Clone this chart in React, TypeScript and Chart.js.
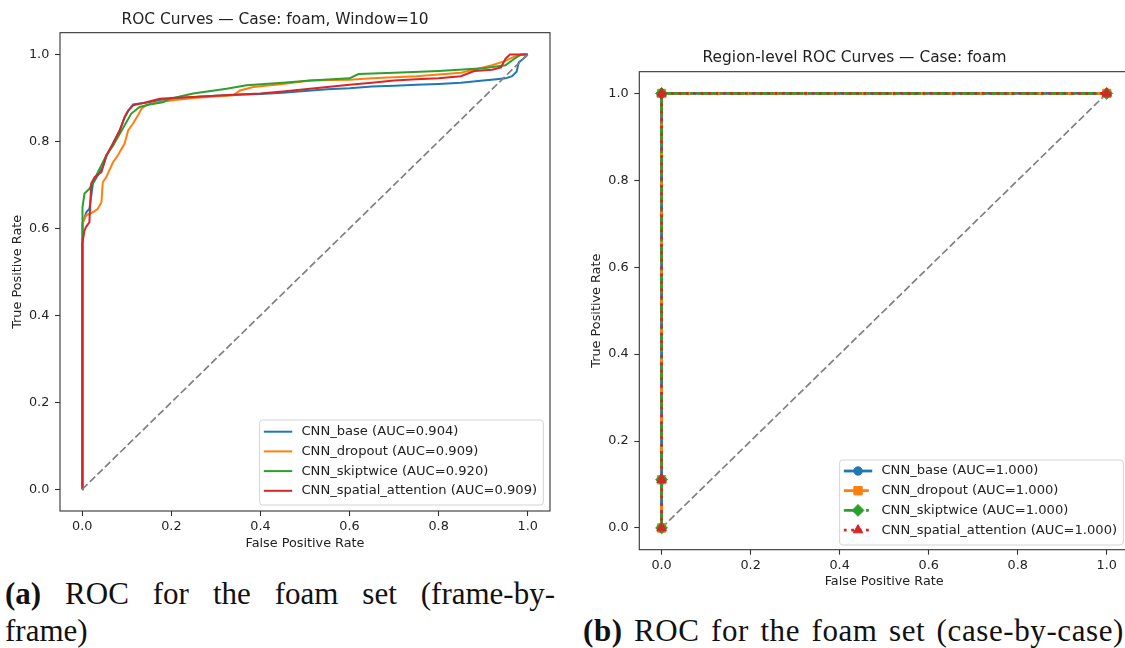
import React, { useEffect, useRef } from "react";
import { Chart, registerables } from "chart.js";
import { drawPoint } from "chart.js/helpers";

Chart.register(...registerables);
Chart.defaults.font.family = '"DejaVu Sans", sans-serif';

// ---------- data ----------
const MODEL_NAMES = ["CNN_base", "CNN_dropout", "CNN_skiptwice", "CNN_spatial_attention"];
const MODEL_COLORS = ["#1f77b4", "#ff7f0e", "#2ca02c", "#d62728"];
const FRAME_AUC = ["0.904", "0.909", "0.920", "0.909"];
const CASE_AUC = ["1.000", "1.000", "1.000", "1.000"];
const AXIS_TICKS = [0, 0.2, 0.4, 0.6, 0.8, 1.0];
const DIAG_X = [0, 1];
const DIAG_Y = [0, 1];

const baseFpr = [0, 0, 0.001, 0.009, 0.016, 0.024, 0.035, 0.046, 0.054, 0.069, 0.084, 0.095, 0.103, 0.114, 0.129, 0.15, 0.175, 0.2, 0.25, 0.3, 0.35, 0.4, 0.45, 0.5, 0.55, 0.6, 0.65, 0.7, 0.75, 0.8, 0.85, 0.9, 0.93, 0.95, 0.965, 0.975, 0.98, 0.99, 1];
const baseTpr = [0, 0.58, 0.61, 0.637, 0.645, 0.703, 0.722, 0.741, 0.765, 0.795, 0.825, 0.855, 0.87, 0.885, 0.887, 0.89, 0.895, 0.898, 0.902, 0.905, 0.907, 0.909, 0.912, 0.916, 0.92, 0.922, 0.926, 0.928, 0.93, 0.932, 0.935, 0.94, 0.943, 0.945, 0.95, 0.96, 0.982, 0.99, 1];

const dropoutFpr = [0, 0, 0.001, 0.009, 0.024, 0.035, 0.043, 0.046, 0.054, 0.069, 0.08, 0.095, 0.103, 0.114, 0.125, 0.133, 0.144, 0.174, 0.249, 0.339, 0.354, 0.384, 0.45, 0.512, 0.6, 0.65, 0.75, 0.85, 0.88, 0.92, 0.95, 0.97, 0.99, 1];
const dropoutTpr = [0, 0.58, 0.611, 0.63, 0.637, 0.645, 0.66, 0.706, 0.718, 0.752, 0.768, 0.795, 0.825, 0.841, 0.86, 0.875, 0.884, 0.891, 0.9, 0.906, 0.917, 0.925, 0.932, 0.94, 0.942, 0.945, 0.95, 0.958, 0.965, 0.975, 0.985, 0.995, 1, 1];

const skipFpr = [0, 0, 0.001, 0.005, 0.016, 0.024, 0.039, 0.054, 0.069, 0.084, 0.099, 0.11, 0.129, 0.151, 0.181, 0.197, 0.249, 0.324, 0.369, 0.45, 0.512, 0.6, 0.62, 0.7, 0.8, 0.9, 0.95, 0.97, 0.985, 1];
const skipTpr = [0, 0.58, 0.649, 0.68, 0.691, 0.706, 0.737, 0.768, 0.79, 0.817, 0.844, 0.864, 0.879, 0.885, 0.89, 0.898, 0.91, 0.921, 0.929, 0.935, 0.94, 0.945, 0.955, 0.958, 0.962, 0.968, 0.975, 0.99, 1, 1];

const spatialFpr = [0, 0, 0.005, 0.009, 0.016, 0.02, 0.028, 0.043, 0.054, 0.069, 0.084, 0.095, 0.103, 0.114, 0.144, 0.174, 0.2, 0.25, 0.3, 0.35, 0.4, 0.45, 0.5, 0.55, 0.6, 0.65, 0.7, 0.75, 0.8, 0.85, 0.88, 0.92, 0.94, 0.95, 0.96, 1];
const spatialTpr = [0, 0.565, 0.595, 0.604, 0.614, 0.703, 0.718, 0.729, 0.768, 0.795, 0.825, 0.856, 0.871, 0.883, 0.89, 0.898, 0.9, 0.902, 0.905, 0.908, 0.91, 0.915, 0.92, 0.925, 0.93, 0.935, 0.94, 0.943, 0.945, 0.95, 0.962, 0.965, 0.97, 0.99, 1.0, 1.0];

const FRAME_FPR = [baseFpr, dropoutFpr, skipFpr, spatialFpr];
const FRAME_TPR = [baseTpr, dropoutTpr, skipTpr, spatialTpr];

const caseFpr = [0, 0, 0, 1];
const caseTpr = [0, 0.111, 1, 1];

// ---------- styles ----------
const CASE_DASH = [[], [10.3, 4.4], [17.8, 4.4, 2.8, 4.4], [2.8, 4.6]];
const CASE_MARKER = ["circle", "rect", "rectRot", "triangle"];
const CASE_RADIUS = [4.2, 5.9, 5.9, 5.5];
const TEXT = "#222";
const TICK_FONT = 12.8;
const LEGEND_FONT = 13.1;

const toPoints = (xs: number[], ys: number[]) => xs.map((x, i) => ({ x, y: ys[i] }));

const framePlugin = {
  id: "mplFrame",
  afterDatasetsDraw(chart: any) {
    const { ctx, chartArea } = chart;
    ctx.save();
    ctx.strokeStyle = "#333";
    ctx.lineWidth = 1.1;
    ctx.strokeRect(chartArea.left, chartArea.top, chartArea.right - chartArea.left, chartArea.bottom - chartArea.top);
    ctx.restore();
  },
};

const legendPlugin = {
  id: "mplLegend",
  afterDraw(chart: any, _args: any, opts: any) {
    const { ctx, chartArea } = chart;
    const items = opts.items || [];
    ctx.save();
    ctx.font = `${LEGEND_FONT}px "DejaVu Sans"`;
    const textW = Math.max(...items.map((it: any) => ctx.measureText(it.label).width));
    const padL = 4.2, handleW = 28.4, gap = 9.2, padR = 6.2;
    const boxW = padL + handleW + gap + textW + padR;
    const boxH = 85;
    const right = chartArea.right - opts.insetR;
    const bottom = chartArea.bottom - opts.insetB;
    const left = right - boxW;
    const top = bottom - boxH;
    const r = 3;
    ctx.beginPath();
    ctx.moveTo(left + r, top);
    ctx.lineTo(right - r, top);
    ctx.quadraticCurveTo(right, top, right, top + r);
    ctx.lineTo(right, bottom - r);
    ctx.quadraticCurveTo(right, bottom, right - r, bottom);
    ctx.lineTo(left + r, bottom);
    ctx.quadraticCurveTo(left, bottom, left, bottom - r);
    ctx.lineTo(left, top + r);
    ctx.quadraticCurveTo(left, top, left + r, top);
    ctx.closePath();
    ctx.fillStyle = "rgba(255,255,255,0.8)";
    ctx.fill();
    ctx.strokeStyle = "#d4d4d4";
    ctx.lineWidth = 1;
    ctx.stroke();
    items.forEach((it: any, i: number) => {
      const y = top + opts.firstRow + i * 19.7;
      const x0 = left + padL;
      ctx.save();
      ctx.strokeStyle = it.color;
      ctx.lineWidth = it.lineWidth;
      ctx.setLineDash(it.dash || []);
      ctx.beginPath();
      ctx.moveTo(x0, y);
      ctx.lineTo(x0 + handleW, y);
      ctx.stroke();
      ctx.restore();
      if (it.pointStyle) {
        ctx.save();
        ctx.fillStyle = it.color;
        ctx.strokeStyle = it.color;
        ctx.lineWidth = 1;
        drawPoint(ctx, { pointStyle: it.pointStyle, radius: it.radius, rotation: 0, borderWidth: 1 } as any, x0 + handleW / 2, y);
        ctx.restore();
      }
      ctx.fillStyle = TEXT;
      ctx.textBaseline = "middle";
      ctx.textAlign = "left";
      ctx.fillText(it.label, x0 + handleW + gap, y);
    });
    ctx.restore();
  },
};

function axis(title: string, isX: boolean, fixed: number, titlePad: any) {
  return {
    type: "linear",
    min: -0.05,
    max: 1.05,
    afterBuildTicks: (s: any) => {
      s.ticks = AXIS_TICKS.map((v) => ({ value: v }));
    },
    afterFit: (s: any) => {
      if (isX) s.height = fixed;
      else s.width = fixed;
    },
    ticks: {
      callback: (v: any) => Number(v).toFixed(1),
      color: TEXT,
      font: { size: TICK_FONT },
      padding: isX ? 3 : 5.7,
      autoSkip: false,
      maxRotation: 0,
    },
    grid: { display: true, drawOnChartArea: false, drawTicks: true, tickLength: 5, tickColor: "#333", tickWidth: 1.1 },
    border: { display: false },
    title: { display: true, text: title, color: TEXT, font: { size: TICK_FONT }, padding: titlePad },
  };
}

function FrameChart() {
  const ref = useRef<HTMLCanvasElement>(null);
  useEffect(() => {
    const datasets: any[] = MODEL_NAMES.map((n, i) => ({
      label: `${n} (AUC=${FRAME_AUC[i]})`,
      data: toPoints(FRAME_FPR[i], FRAME_TPR[i]),
      borderColor: MODEL_COLORS[i],
      backgroundColor: MODEL_COLORS[i],
      borderWidth: 2,
      pointRadius: 0,
      tension: 0,
      fill: false,
      order: 10 - i,
    }));
    datasets.push({
      label: "chance",
      data: toPoints(DIAG_X, DIAG_Y),
      borderColor: "#808080",
      borderWidth: 1.7,
      borderDash: [7.4, 3.2],
      pointRadius: 0,
      fill: false,
      order: 0,
    });
    const chart = new Chart(ref.current as HTMLCanvasElement, {
      type: "line",
      data: { datasets },
      plugins: [framePlugin, legendPlugin],
      options: {
        animation: false,
        responsive: true,
        maintainAspectRatio: false,
        devicePixelRatio: 1,
        layout: { padding: { left: 0, right: 10, top: 0, bottom: 0 } },
        scales: {
          x: axis("False Positive Rate", true, 49, { top: 0, bottom: 8.8 }),
          y: axis("True Positive Rate", false, 60, { top: 10, bottom: 0 }),
        } as any,
        plugins: {
          legend: { display: false },
          tooltip: { enabled: false },
          title: {
            display: true,
            text: "ROC Curves \u2014 Case: foam, Window=10",
            color: TEXT,
            font: { size: 15.4, weight: "normal" },
            padding: { top: 10.8, bottom: 3.4 },
          },
          mplLegend: {
            insetR: 6.7,
            insetB: 6,
            firstRow: 11.7,
            items: MODEL_NAMES.map((n, i) => ({ label: `${n} (AUC=${FRAME_AUC[i]})`, color: MODEL_COLORS[i], lineWidth: 2 })),
          },
        } as any,
      },
    });
    return () => chart.destroy();
  }, []);
  return (
    <div style={{ position: "absolute", left: 0, top: 0, width: 560, height: 560 }}>
      <canvas ref={ref} />
    </div>
  );
}

function CaseChart() {
  const ref = useRef<HTMLCanvasElement>(null);
  useEffect(() => {
    const datasets: any[] = [
      {
        label: "chance",
        data: toPoints(DIAG_X, DIAG_Y),
        borderColor: "#808080",
        borderWidth: 1.7,
        borderDash: [7.4, 3.2],
        pointRadius: 0,
        fill: false,
        order: 100,
      },
    ];
    MODEL_NAMES.forEach((n, i) => {
      datasets.push({
        label: `${n} (AUC=${CASE_AUC[i]})`,
        data: toPoints(caseFpr, caseTpr),
        borderColor: MODEL_COLORS[i],
        backgroundColor: MODEL_COLORS[i],
        borderWidth: 2.8,
        borderDash: CASE_DASH[i],
        pointStyle: CASE_MARKER[i],
        pointRadius: CASE_RADIUS[i],
        pointBorderWidth: 1,
        pointBorderColor: MODEL_COLORS[i],
        pointBackgroundColor: MODEL_COLORS[i],
        tension: 0,
        fill: false,
        clip: false,
        order: 10 - i,
      });
    });
    const chart = new Chart(ref.current as HTMLCanvasElement, {
      type: "line",
      data: { datasets },
      plugins: [framePlugin, legendPlugin],
      options: {
        animation: false,
        responsive: true,
        maintainAspectRatio: false,
        devicePixelRatio: 1,
        layout: { padding: { left: 0, right: 11, top: 0, bottom: 0 } },
        scales: {
          x: axis("False Positive Rate", true, 50.3, { top: 0, bottom: 10.8 }),
          y: axis("True Positive Rate", false, 59.3, { top: 8.8, bottom: 0 }),
        } as any,
        plugins: {
          legend: { display: false },
          tooltip: { enabled: false },
          title: {
            display: true,
            text: "Region-level ROC Curves \u2014 Case: foam",
            color: TEXT,
            font: { size: 15.4, weight: "normal" },
            padding: { top: 48.8, bottom: 4.4 },
          },
          mplLegend: {
            insetR: 5.7,
            insetB: 4.7,
            firstRow: 11,
            items: MODEL_NAMES.map((n, i) => ({
              label: `${n} (AUC=${CASE_AUC[i]})`,
              color: MODEL_COLORS[i],
              lineWidth: 2.8,
              dash: CASE_DASH[i],
              pointStyle: CASE_MARKER[i],
              radius: CASE_RADIUS[i],
            })),
          },
        } as any,
      },
    });
    return () => chart.destroy();
  }, []);
  return (
    <div style={{ position: "absolute", left: 580, top: 0, width: 560, height: 600 }}>
      <canvas ref={ref} />
    </div>
  );
}

const captionStyle: React.CSSProperties = {
  position: "absolute",
  fontFamily: '"Liberation Serif", "Times New Roman", serif',
  fontSize: 31,
  lineHeight: "31px",
  color: "#111",
  whiteSpace: "nowrap",
};

export default function App() {
  return (
    <div style={{ position: "absolute", left: 0, top: 0, width: 1125, height: 648, overflow: "hidden", background: "#fff" }}>
      <FrameChart />
      <CaseChart />
      <div style={{ ...captionStyle, left: 5, top: 578, width: 550, textAlign: "justify", textAlignLast: "justify" as any }}>
        <b>(a)</b> ROC for the foam set (frame-by-
      </div>
      <div style={{ ...captionStyle, left: 5, top: 615 }}>frame)</div>
      <div style={{ ...captionStyle, left: 583, top: 615, width: 541, letterSpacing: 0.6, textAlign: "justify", textAlignLast: "justify" as any }}>
        <b>(b)</b> ROC for the foam set (case-by-case)
      </div>
    </div>
  );
}
